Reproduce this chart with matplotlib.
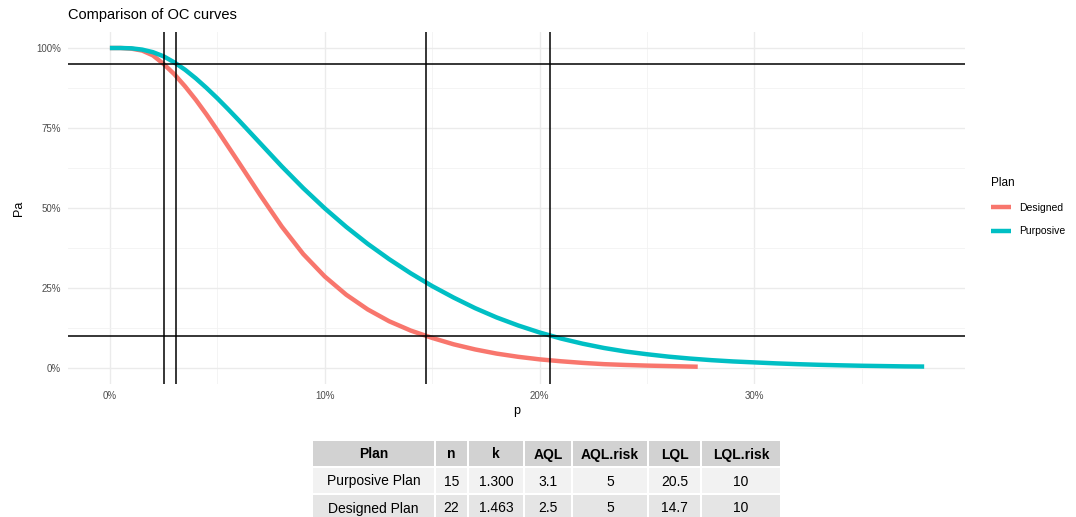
import matplotlib.pyplot as plt
from matplotlib.patches import Rectangle
from matplotlib.lines import Line2D
from matplotlib.ticker import PercentFormatter

plt.rcParams['font.family'] = ['Liberation Sans', 'DejaVu Sans']

# OC curves (p in %, Pa in %)
designed_p = [0, 0.5, 1, 1.5, 2, 2.5, 3, 3.5, 4, 4.5, 5, 6, 7, 8, 9, 10, 11, 12, 13, 14,
              15, 16, 17, 18, 19, 20, 21, 22, 23, 24, 25, 26, 27, 27.36]
designed_pa = [100, 100, 99.8, 99.2, 97.7, 95, 91.8, 88.0, 83.8, 79.2, 74.3, 64.2, 54.0, 44.2,
               35.6, 28.6, 22.9, 18.3, 14.6, 11.7, 9.4, 7.4, 5.8, 4.5, 3.5, 2.7, 2.1, 1.6,
               1.2, 0.95, 0.75, 0.6, 0.45, 0.4]
purposive_p = [0, 0.5, 1, 1.5, 2, 2.5, 3, 3.5, 4, 4.5, 5, 5.5, 6, 7, 8, 9, 10, 11, 12, 13,
               14, 15, 16, 17, 18, 19, 20, 21, 22, 23, 24, 25, 26, 27, 28, 29, 30, 31, 32,
               33, 34, 35, 36, 37, 37.9]
purposive_pa = [100, 100, 99.9, 99.5, 98.7, 97.4, 95.5, 93.2, 90.5, 87.5, 84.3, 80.9, 77.4,
                70.2, 63.0, 56.2, 49.9, 44.1, 38.8, 34.0, 29.6, 25.6, 22.0, 18.7, 15.8, 13.3,
                11.1, 9.2, 7.6, 6.25, 5.15, 4.3, 3.55, 2.95, 2.45, 2.05, 1.75, 1.45, 1.2,
                1.0, 0.84, 0.7, 0.6, 0.5, 0.45]

# plan limits: AQL / LQL and their risks
vlines = [2.5, 3.1, 14.7, 20.5]
hlines = [95, 10]

table_cols = ['Plan', 'n', 'k', 'AQL', 'AQL.risk', 'LQL', 'LQL.risk']
table_rows = [['Purposive Plan', '15', '1.300', '3.1', '5', '20.5', '10'],
              ['Designed Plan', '22', '1.463', '2.5', '5', '14.7', '10']]

W, H = 1076, 517
fig = plt.figure(figsize=(W / 100, H / 100), dpi=100)
ax = fig.add_axes([68 / W, 1 - 384 / H, (965 - 68) / W, (384 - 32) / H])

ax.set_xlim(-1.95, 39.8)
ax.set_ylim(-5, 105)
ax.set_xticks([0, 10, 20, 30])
ax.set_xticks([5, 15, 25, 35], minor=True)
ax.set_yticks([0, 25, 50, 75, 100])
ax.set_yticks([12.5, 37.5, 62.5, 87.5], minor=True)
ax.xaxis.set_major_formatter(PercentFormatter(100, decimals=0))
ax.yaxis.set_major_formatter(PercentFormatter(100, decimals=0))
ax.grid(which='major', color='#EBEBEB', lw=1.0)
ax.grid(which='minor', color='#F2F2F2', lw=0.6)
ax.set_axisbelow(True)
for s in ax.spines.values():
    s.set_visible(False)
ax.tick_params(which='both', length=0, labelsize=7, labelcolor='#4D4D4D')
ax.tick_params(axis='x', pad=5)
ax.tick_params(axis='y', pad=5)

ax.plot(designed_p, designed_pa, color='#F8766D', lw=3.2, solid_capstyle='butt',
        solid_joinstyle='round')
ax.plot(purposive_p, purposive_pa, color='#00BFC4', lw=3.2, solid_capstyle='butt',
        solid_joinstyle='round')
for v in vlines:
    ax.axvline(v, color='black', lw=1.1)
for h in hlines:
    ax.axhline(h, color='black', lw=1.1)

ax.set_xlabel('p', fontsize=9, labelpad=3)
ax.set_ylabel('Pa', fontsize=9, labelpad=8)
fig.text(68 / W, 1 - 15 / H, 'Comparison of OC curves', fontsize=10.5, va='center', ha='left')

handles = [Line2D([], [], color='#F8766D', lw=3.2, solid_capstyle='butt'),
           Line2D([], [], color='#00BFC4', lw=3.2, solid_capstyle='butt')]
leg = fig.legend(handles, ['Designed', 'Purposive'], title='Plan', loc='upper left',
                 bbox_to_anchor=(982 / W, 1 - 168 / H), frameon=False, fontsize=7.5,
                 title_fontsize=8.5, handlelength=1.9, handletextpad=0.8, labelspacing=1.3)
leg._legend_box.align = 'left'

# summary table below the plot
col_w = [123, 33, 56, 48, 76, 53, 80]
x0, gap = 313, 2
row_tops = [441, 468, 495]
row_h = 25
fills = ['#D2D2D2', '#F2F2F2', '#E5E5E5']
rows = [table_cols] + table_rows
for r, row in enumerate(rows):
    x = x0
    for c, txt in enumerate(row):
        y = row_tops[r]
        fig.add_artist(Rectangle((x / W, 1 - (y + row_h) / H), (col_w[c] - gap) / W, row_h / H,
                                 transform=fig.transFigure, facecolor=fills[r], edgecolor='none'))
        fig.text((x + (col_w[c] - gap) / 2) / W, 1 - (y + row_h / 2 + 1) / H, txt,
                 ha='center', va='center', fontsize=10,
                 fontweight='bold' if r == 0 else 'normal')
        x += col_w[c]

fig.savefig('out.png', dpi=100)
